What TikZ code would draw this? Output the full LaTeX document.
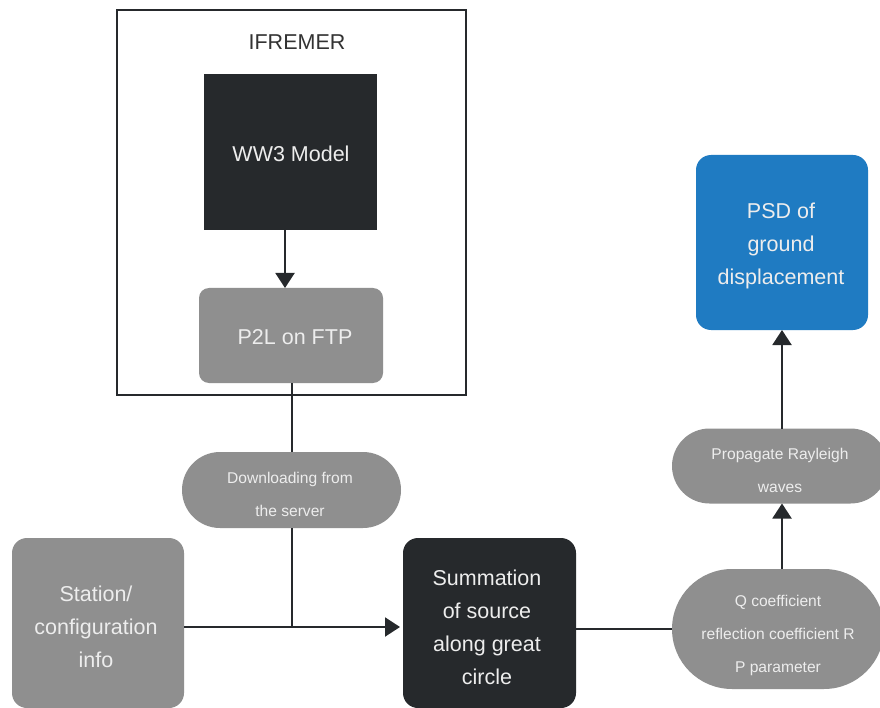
\documentclass[tikz,border=0pt]{standalone}
\usepackage{fontspec}
\setmainfont{Liberation Sans}
\usetikzlibrary{arrows.meta}
\definecolor{dark}{HTML}{26292C}
\definecolor{gbox}{HTML}{8F8F8F}
\definecolor{bbox}{HTML}{1F7BC2}
\definecolor{ltxt}{HTML}{EDEDED}
\definecolor{ftxt}{HTML}{333333}
\begin{document}
\begin{tikzpicture}[x=1pt,y=-1pt,
  box/.style={inner sep=0pt, outer sep=0pt, align=center},
  big/.style={font=\fontsize{21.5}{33}\selectfont},
  small/.style={font=\fontsize{15.6}{33}\selectfont},
  conn/.style={draw=dark, line width=2pt},
  arr/.style={conn, -{Triangle[width=19pt,length=15pt]}}]
\clip (0,0) rectangle (880,708);
\fill[white] (0,0) rectangle (880,708);
% IFREMER frame
\node[box, draw=dark, line width=2.2pt, minimum width=349pt, minimum height=385pt] (frame) at (291.5,202.5) {};
\node[box, big, text=ftxt] (ftitle) at (297,42) {IFREMER};
\node[box, big, fill=dark, text=ltxt, minimum width=173pt, minimum height=156pt] (ww3) at (290.5,152) {};
\node[box, big, text=ltxt] (ww3txt) at (291,154) {WW3 Model};
\node[box, fill=gbox, rounded corners=10pt, minimum width=184pt, minimum height=95pt] (p2l) at (291,335.5) {};
\node[box, big, text=ltxt] (p2ltxt) at (295,337) {P2L on FTP};
\node[box, fill=gbox, rounded corners=38pt, minimum width=219pt, minimum height=76pt] (dl) at (291.5,490) {};
\node[box, small, text=ltxt] (dltxt) at (290,494) {Downloading from\\the server};
% bottom row
\node[box, fill=gbox, rounded corners=15pt, minimum width=172pt, minimum height=170pt] (station) at (98,623) {};
\node[box, big, text=ltxt] (stationtxt) at (96,627) {Station/\\configuration\\info};
\node[box, fill=dark, rounded corners=15pt, minimum width=173pt, minimum height=170pt] (summ) at (489.5,623) {};
\node[box, big, text=ltxt] (summtxt) at (487,627) {Summation\\of source\\along great\\circle};
\node[box, fill=gbox, rounded corners=60pt, minimum width=212pt, minimum height=120pt] (qpill) at (778,629) {};
\node[box, small, text=ltxt] (qtxt) at (778,635) {Q coefficient\\reflection coefficient R\\P parameter};
\node[box, fill=gbox, rounded corners=37.5pt, minimum width=216pt, minimum height=75pt] (prop) at (780,466) {};
\node[box, small, text=ltxt] (proptxt) at (780,470) {Propagate Rayleigh\\waves};
\node[box, fill=bbox, rounded corners=15pt, minimum width=172pt, minimum height=175pt] (psd) at (782,242.5) {};
\node[box, big, text=ltxt] (psdtxt) at (781,245.5) {PSD of\\ground\\displacement};
% connectors
\coordinate (j) at (292,627);
\draw[arr] ([xshift=-5.5pt]ww3.south) -- ([xshift=-5.5pt]ww3.south |- p2l.north);
\draw[conn] (p2l.south -| j) -- (dl.north -| j);
\draw[conn] (dl.south -| j) -- (j);
\draw[arr] (station.east |- j) -- ([xshift=-3pt]summ.west |- j);
\draw[conn] (summ.east |- qpill.west) -- (qpill.west);
\draw[arr] (qpill.north -| psd.south) -- (prop.south -| psd.south);
\draw[arr] (prop.north -| psd.south) -- (psd.south);
\end{tikzpicture}
\end{document}
